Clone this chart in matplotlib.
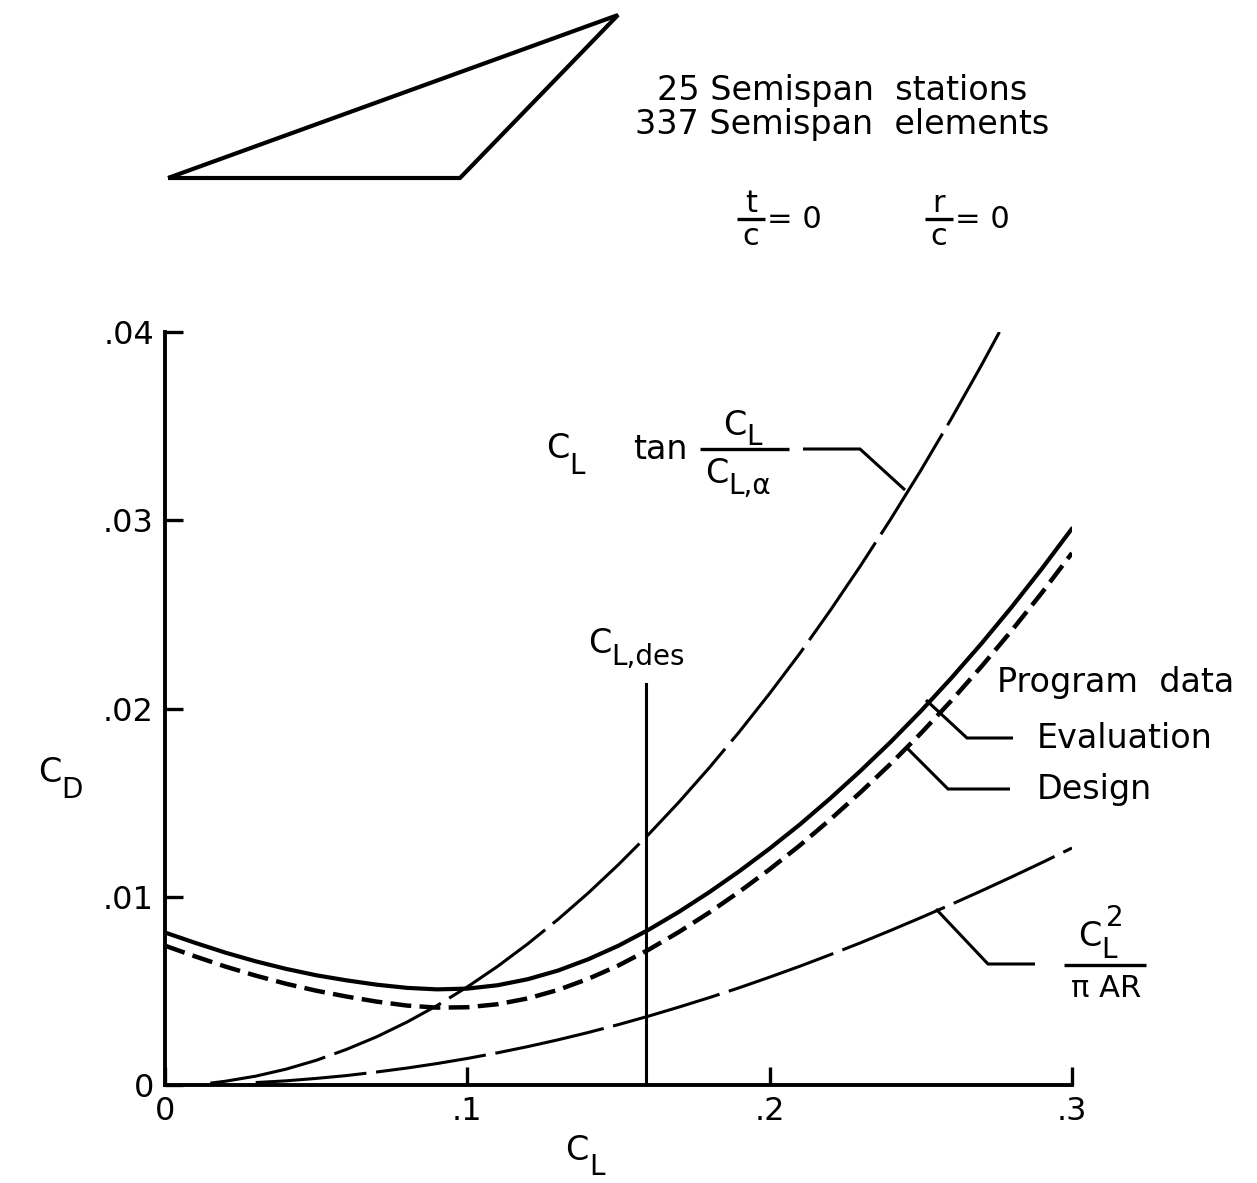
import matplotlib
matplotlib.use("Agg")
import matplotlib.pyplot as plt

plt.rcParams['font.family'] = ['DejaVu Sans']
plt.rcParams['lines.scale_dashes'] = False

# ---------------- data ----------------
cl_prog = [0.00, 0.01, 0.02, 0.03, 0.04, 0.05, 0.06, 0.07, 0.08, 0.09, 0.10,
           0.11, 0.12, 0.13, 0.14, 0.15, 0.16, 0.17, 0.18, 0.19, 0.20,
           0.21, 0.22, 0.23, 0.24, 0.25, 0.26, 0.27, 0.28, 0.29, 0.30]
cd_evaluation = [0.00810, 0.00755, 0.00703, 0.00657, 0.00617, 0.00583, 0.00556, 0.00533, 0.00516, 0.00508,
                 0.00512, 0.00530, 0.00562, 0.00608, 0.00668, 0.00740, 0.00825, 0.00920, 0.01024, 0.01136,
                 0.01256, 0.01384, 0.01522, 0.01668, 0.01822, 0.01986, 0.02160, 0.02344, 0.02538, 0.02742,
                 0.02956]
cd_design = [0.00740, 0.00683, 0.00629, 0.00581, 0.00538, 0.00501, 0.00470, 0.00443, 0.00422, 0.00411,
             0.00413, 0.00429, 0.00460, 0.00505, 0.00564, 0.00635, 0.00719, 0.00813, 0.00916, 0.01027,
             0.01146, 0.01273, 0.01410, 0.01554, 0.01706, 0.01868, 0.02040, 0.02222, 0.02413, 0.02614,
             0.02826]

cl_tan = [0.015, 0.02, 0.03, 0.04, 0.05, 0.06, 0.07, 0.08, 0.09, 0.10, 0.11, 0.12, 0.13, 0.14,
          0.15, 0.16, 0.17, 0.18, 0.19, 0.20, 0.21, 0.22, 0.23, 0.24, 0.25, 0.26, 0.27, 0.276]
cd_tan = [0.00010, 0.00020, 0.00047, 0.00084, 0.00131, 0.00189, 0.00256, 0.00334, 0.00422, 0.00521,
          0.00630, 0.00750, 0.00880, 0.01020, 0.01171, 0.01332, 0.01503, 0.01685, 0.01877, 0.02080,
          0.02293, 0.02520, 0.02757, 0.03005, 0.03265, 0.03537, 0.03822, 0.04000]

cl_ind = [0.03, 0.04, 0.05, 0.06, 0.07, 0.08, 0.09, 0.10, 0.11, 0.12, 0.13, 0.14, 0.15, 0.16,
          0.17, 0.18, 0.19, 0.20, 0.21, 0.22, 0.23, 0.24, 0.25, 0.26, 0.27, 0.28, 0.29, 0.30]
cd_ind = [0.00013, 0.00022, 0.00035, 0.00050, 0.00069, 0.00090, 0.00114, 0.00141, 0.00171, 0.00204,
          0.00240, 0.00279, 0.00321, 0.00366, 0.00414, 0.00464, 0.00517, 0.00573, 0.00631, 0.00692,
          0.00755, 0.00821, 0.00889, 0.00959, 0.01031, 0.01105, 0.01181, 0.01259]

cl_design_point = 0.159
cd_design_line_top = 0.0213

xticks = [0, 0.1, 0.2, 0.3]
xtick_labels = ['0', '.1', '.2', '.3']
yticks = [0, 0.01, 0.02, 0.03, 0.04]
ytick_labels = ['0', '.01', '.02', '.03', '.04']

# ---------------- figure ----------------
W, H = 1257, 1183
fig = plt.figure(figsize=(W / 100, H / 100), dpi=100)
ax = fig.add_axes([165 / W, 1 - 1085 / H, (1072 - 165) / W, (1085 - 332) / H])

ax.plot(cl_prog, cd_evaluation, color='black', lw=3.0, solid_capstyle='round')
ax.plot(cl_prog, cd_design, color='black', lw=3.2, dashes=(15, 6))
ax.plot(cl_tan, cd_tan, color='black', lw=2.2, dashes=(85, 7))
ax.plot(cl_ind, cd_ind, color='black', lw=2.2, dashes=(80, 7))
ax.plot([cl_design_point, cl_design_point], [0, cd_design_line_top], color='black', lw=2.2)

ax.set_xlim(0, 0.3)
ax.set_ylim(0, 0.04)
ax.set_xticks(xticks)
ax.set_xticklabels(xtick_labels)
ax.set_yticks(yticks)
ax.set_yticklabels(ytick_labels)
ax.tick_params(direction='in', length=13, width=2.4, labelsize=23, pad=8)
for s in ['top', 'right']:
    ax.spines[s].set_visible(False)
for s in ['left', 'bottom']:
    ax.spines[s].set_linewidth(2.8)

# ---------------- overlay in pixel coordinates ----------------
ov = fig.add_axes([0, 0, 1, 1], zorder=5)
ov.set_xlim(0, W)
ov.set_ylim(H, 0)
ov.axis('off')

def T(x, y, s, size=24, ha='left', va='center'):
    ov.text(x, y, s, fontsize=size, ha=ha, va=va, color='black')

def L(xs, ys, lw=2.2):
    ov.plot(xs, ys, color='black', lw=lw, solid_capstyle='butt', solid_joinstyle='miter')

# planform
L([168, 460, 618, 168], [178, 178, 15, 178], lw=3.0)

# header texts
T(842, 90, '25 Semispan  stations', size=24, ha='center')
T(842, 124, '337 Semispan  elements', size=24, ha='center')
T(751, 203, 't', size=22, ha='center')
L([737, 765], [219, 219], lw=2.4)
T(751, 236, 'c', size=22, ha='center')
T(767, 219, '= 0', size=22)
T(939, 203, 'r', size=22, ha='center')
L([925, 953], [219, 219], lw=2.4)
T(939, 236, 'c', size=22, ha='center')
T(955, 219, '= 0', size=22)

# axis labels
T(50, 772, 'C', size=24, ha='center')
T(61, 790, 'D', size=20, ha='left')
T(577, 1150, 'C', size=24, ha='center')
T(589, 1167, 'L', size=20, ha='left')

# C_L tan C_L / C_L,alpha
T(558, 448, 'C', size=24, ha='center')
T(569, 466, 'L', size=20, ha='left')
T(660, 449, 'tan', size=24, ha='center')
T(735, 425, 'C', size=24, ha='center')
T(746, 437, 'L', size=20, ha='left')
L([700, 789], [449, 449], lw=2.4)
T(717, 473, 'C', size=24, ha='center')
T(728, 486, 'L,α', size=20, ha='left')
L([803, 860, 905], [449, 449, 490])

# C_L,des
T(600, 643, 'C', size=24, ha='center')
T(611, 657, 'L,des', size=20, ha='left')

# program data
T(997, 682, 'Program  data', size=24)
T(1037, 738, 'Evaluation', size=24)
T(1037, 789, 'Design', size=24)
L([926, 967, 1013], [700, 738, 738])
L([906, 948, 1010], [747, 789, 789])

# C_L^2 / pi AR
T(1090, 936, 'C', size=24, ha='center')
T(1101, 950, 'L', size=20, ha='left')
T(1106, 918, '2', size=20, ha='left')
L([1064, 1146], [965, 965], lw=2.4)
T(1106, 988, 'π AR', size=22, ha='center')
L([936, 988, 1035], [909, 964, 964])

fig.savefig('out.png', dpi=100, facecolor='white')
